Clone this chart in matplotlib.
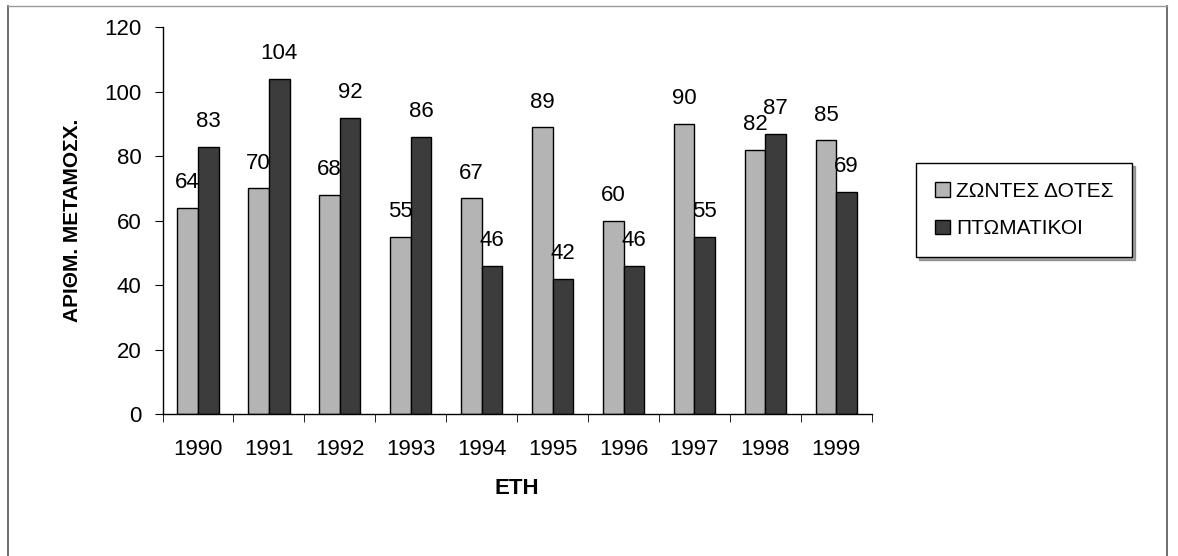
import numpy as np
import matplotlib
matplotlib.use("Agg")
import matplotlib.pyplot as plt
from matplotlib.lines import Line2D

plt.rcParams['font.family'] = ['Liberation Sans', 'DejaVu Sans']

years = ['1990', '1991', '1992', '1993', '1994', '1995', '1996', '1997', '1998', '1999']
living = [64, 70, 68, 55, 67, 89, 60, 90, 82, 85]
cadaver = [83, 104, 92, 86, 46, 42, 46, 55, 87, 69]
series_names = ['ΖΩΝΤΕΣ ΔΟΤΕΣ', 'ΠΤΩΜΑΤΙΚΟΙ']

fig = plt.figure(figsize=(11.78, 5.56), dpi=100)
ax = fig.add_axes([0.138, 0.255, 0.602, 0.696])

x = np.arange(len(years))
w = 0.29
b1 = ax.bar(x - w / 2, living, w, color='#b4b4b4', edgecolor='black', linewidth=1.0, label=series_names[0])
b2 = ax.bar(x + w / 2, cadaver, w, color='#3c3c3c', edgecolor='black', linewidth=1.0, label=series_names[1])

for bars, vals in ((b1, living), (b2, cadaver)):
    for r, v in zip(bars, vals):
        ax.text(r.get_x() + r.get_width() / 2, v + 4.5, str(v), ha='center', va='bottom', fontsize=16)

ax.set_xlim(-0.5, len(years) - 0.5)
ax.set_ylim(0, 120)
ax.set_yticks(range(0, 121, 20))
ax.set_xticks(x)
ax.set_xticklabels(years)
ax.set_xticks(np.arange(-0.5, len(years), 1), minor=True)
ax.tick_params(axis='x', which='major', length=0, pad=18, labelsize=16)
ax.tick_params(axis='x', which='minor', length=6, direction='out')
ax.tick_params(axis='y', length=6, labelsize=16, pad=9)
for s in ('top', 'right'):
    ax.spines[s].set_visible(False)
ax.spines['left'].set_linewidth(1.0)
ax.spines['bottom'].set_linewidth(1.0)

ax.set_ylabel('ΑΡΙΘΜ. ΜΕΤΑΜΟΣΧ.', fontsize=15, fontweight='bold', labelpad=16)
ax.set_xlabel('ΕΤΗ', fontsize=16, fontweight='bold', labelpad=13)

leg = fig.legend(loc='upper left', bbox_to_anchor=(0.778, 0.707), fontsize=15,
                 frameon=True, fancybox=False, shadow=True, handlelength=0.7,
                 handleheight=0.7, handletextpad=0.3, labelspacing=0.9, borderpad=0.9,
                 borderaxespad=0)
leg.get_frame().set_edgecolor('black')
leg.get_frame().set_linewidth(1.0)

# outer chart border
fig.add_artist(Line2D([0.007, 0.007], [0.0, 0.99], color='#555555', lw=1.2))
fig.add_artist(Line2D([0.991, 0.991], [0.0, 0.99], color='#555555', lw=1.2))
fig.add_artist(Line2D([0.007, 0.991], [0.99, 0.99], color='#999999', lw=1.0))

fig.savefig('out.png', dpi=100)
